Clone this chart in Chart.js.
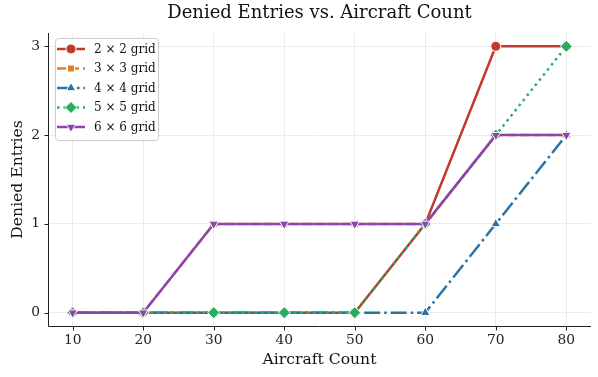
<!DOCTYPE html>
<html>
<head>
<meta charset="utf-8">
<script src="https://cdn.jsdelivr.net/npm/chart.js@4/dist/chart.umd.min.js"></script>
<style>
  html, body { margin: 0; padding: 0; background: #fff; }
  #wrap { width: 598px; height: 377px; position: relative; }
</style>
</head>
<body>
<div id="wrap"><canvas id="c" width="598" height="377"></canvas></div>
<script>
// Aircraft counts on the x axis
const aircraftCounts = [10, 20, 30, 40, 50, 60, 70, 80];
// Denied entries per grid size
const grid2 = [0, 0, 0, 0, 0, 1, 3, 3];
const grid3 = [0, 0, 1, 1, 1, 1, 2, 2];
const grid4 = [0, 0, 0, 0, 0, 0, 1, 2];
const grid5 = [0, 0, 0, 0, 0, 1, 2, 3];
const grid6 = [0, 0, 1, 1, 1, 1, 2, 2];
const seriesLabels = ['2 × 2 grid', '3 × 3 grid', '4 × 4 grid', '5 × 5 grid', '6 × 6 grid'];
const xTicks = [10, 20, 30, 40, 50, 60, 70, 80];
const yTicks = [0, 1, 2, 3];

const SERIF = "'DejaVu Serif', 'Liberation Serif', serif";
const LW = 2.5;

const styles = [
  { color: '#c0392b', dash: [], point: 'circle', rot: 0, r: 5 },
  { color: '#e67e22', dash: [9, 4], point: 'rect', rot: 0, r: 5 },
  { color: '#2874a6', dash: [16, 4, 2.5, 4], point: 'triangle', rot: 0, r: 5.5 },
  { color: '#27ae60', dash: [2.5, 4], point: 'rectRot', rot: 0, r: 6 },
  { color: '#8e44ad', dash: [], point: 'triangle', rot: 180, r: 5.5 }
];
const allSeries = [grid2, grid3, grid4, grid5, grid6];

const datasets = allSeries.map((vals, i) => ({
  label: seriesLabels[i],
  data: vals.map((v, k) => ({ x: aircraftCounts[k], y: v })),
  borderColor: styles[i].color,
  backgroundColor: styles[i].color,
  borderWidth: LW,
  borderDash: styles[i].dash,
  borderCapStyle: 'butt',
  pointStyle: styles[i].point,
  pointRotation: styles[i].rot,
  pointRadius: styles[i].r,
  pointHoverRadius: styles[i].r,
  pointBackgroundColor: styles[i].color,
  pointBorderColor: '#ffffff',
  pointBorderWidth: 1,
  tension: 0,
  fill: false,
  order: allSeries.length - i
}));

// Axis spines, tick marks, title and legend box drawn on the canvas
const decor = {
  id: 'decor',
  beforeDatasetsDraw(chart) {
    const { ctx, chartArea: a } = chart;
    const xs = chart.scales.x, ys = chart.scales.y;
    ctx.save();
    ctx.strokeStyle = '#222';
    ctx.lineWidth = 1;
    ctx.beginPath();
    ctx.moveTo(a.left + 0.5, a.top);
    ctx.lineTo(a.left + 0.5, a.bottom + 0.5);
    ctx.lineTo(a.right, a.bottom + 0.5);
    xTicks.forEach(v => {
      const px = Math.round(xs.getPixelForValue(v)) + 0.5;
      ctx.moveTo(px, a.bottom + 0.5);
      ctx.lineTo(px, a.bottom + 4.5);
    });
    yTicks.forEach(v => {
      const py = Math.round(ys.getPixelForValue(v)) + 0.5;
      ctx.moveTo(a.left + 0.5, py);
      ctx.lineTo(a.left - 3.5, py);
    });
    ctx.stroke();
    ctx.restore();
  },
  afterDraw(chart) {
    const { ctx, chartArea: a } = chart;
    ctx.save();
    // title
    ctx.fillStyle = '#111';
    ctx.font = '18px ' + SERIF;
    ctx.textAlign = 'center';
    ctx.textBaseline = 'middle';
    ctx.fillText('Denied Entries vs. Aircraft Count', (a.left + a.right) / 2, 13);

    // legend
    const bx = a.left + 7, by = a.top + 5, bw = 103, bh = 102;
    ctx.fillStyle = 'rgba(255,255,255,0.85)';
    ctx.strokeStyle = '#cccccc';
    ctx.lineWidth = 1;
    ctx.beginPath();
    if (ctx.roundRect) ctx.roundRect(bx + 0.5, by + 0.5, bw, bh, 3); else ctx.rect(bx + 0.5, by + 0.5, bw, bh);
    ctx.fill();
    ctx.stroke();
    ctx.font = '12px ' + SERIF;
    ctx.textAlign = 'left';
    ctx.textBaseline = 'middle';
    datasets.forEach((ds, i) => {
      const y = by + 11 + i * 19.5;
      const x0 = bx + 2, x1 = bx + 30;
      ctx.save();
      ctx.strokeStyle = ds.borderColor;
      ctx.lineWidth = LW;
      ctx.lineCap = 'butt';
      ctx.setLineDash(ds.borderDash);
      ctx.beginPath();
      ctx.moveTo(x0, y);
      ctx.lineTo(x1, y);
      ctx.stroke();
      ctx.restore();
      ctx.save();
      ctx.fillStyle = ds.pointBackgroundColor;
      ctx.strokeStyle = '#fff';
      ctx.lineWidth = 1;
      Chart.helpers.drawPoint(ctx, {
        pointStyle: ds.pointStyle,
        rotation: ds.pointRotation,
        radius: ds.pointRadius,
        borderWidth: 1
      }, (x0 + x1) / 2, y);
      ctx.restore();
      ctx.fillStyle = '#111';
      ctx.fillText(ds.label, bx + 39, y + 0.5);
    });
    ctx.restore();
  }
};

new Chart(document.getElementById('c'), {
  type: 'line',
  data: { datasets },
  plugins: [decor],
  options: {
    responsive: false,
    animation: false,
    devicePixelRatio: 1,
    layout: { padding: { top: 33, right: 3, left: 0, bottom: 0 } },
    plugins: { legend: { display: false }, title: { display: false }, tooltip: { enabled: false } },
    scales: {
      x: {
        type: 'linear',
        min: 6.5,
        max: 83.5,
        afterBuildTicks(s) { s.ticks = xTicks.map(v => ({ value: v })); },
        afterFit(s) { s.height = 51; },
        grid: { color: '#ececec', lineWidth: 1, drawTicks: false, drawOnChartArea: true },
        border: { display: false },
        ticks: {
          color: '#222', font: { family: SERIF, size: 13.8 }, padding: 6,
          callback: v => String(v)
        },
        title: {
          display: true, text: 'Aircraft Count', color: '#111',
          font: { family: SERIF, size: 15.6 }, padding: { top: 0, bottom: 8 }
        }
      },
      y: {
        type: 'linear',
        min: -0.15,
        max: 3.15,
        afterBuildTicks(s) { s.ticks = yTicks.map(v => ({ value: v })); },
        afterFit(s) { s.width = 48; },
        grid: { color: '#ececec', lineWidth: 1, drawTicks: false },
        border: { display: false },
        ticks: {
          color: '#222', font: { family: SERIF, size: 13.8 }, padding: 8,
          callback: v => String(v)
        },
        title: {
          display: true, text: 'Denied Entries', color: '#111',
          font: { family: SERIF, size: 15.6 }, padding: { top: 9, bottom: 0 }
        }
      }
    }
  }
});
</script>
</body>
</html>
